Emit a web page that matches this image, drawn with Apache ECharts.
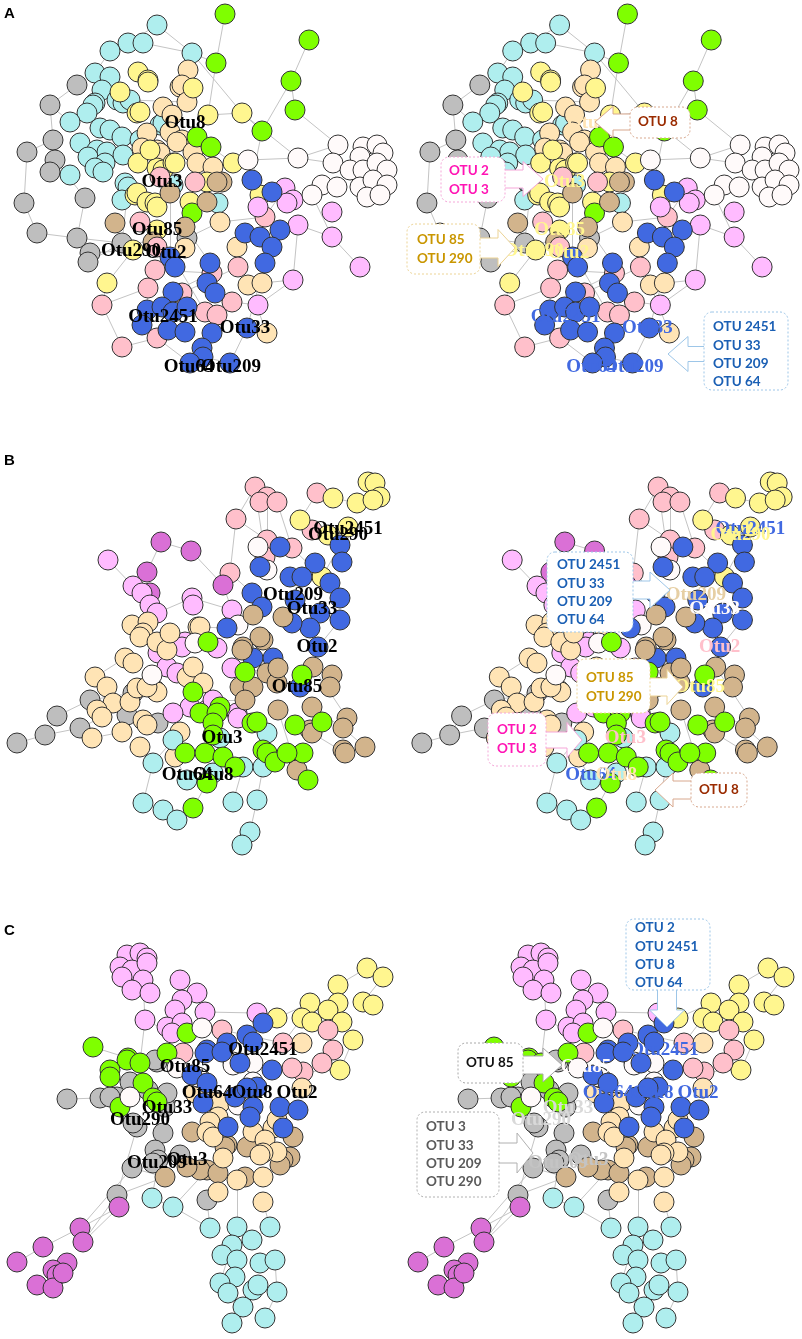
<!DOCTYPE html>
<html>
<head>
<meta charset="utf-8">
<script src="https://cdn.jsdelivr.net/npm/echarts@6.0.0/dist/echarts.min.js"></script>
<style>
html, body { margin: 0; padding: 0; background: #fff; }
#chart { width: 802px; height: 1339px; }
</style>
</head>
<body>
<div id="chart"></div>
<script>
// node positions are in panel units (1 unit = 1 px of a 400 px wide panel)

// ---- network A ----
var aGray = [[77,85],[50,105],[53,140],[27,152],[55,160],[50,172],[24,203],[85,198],[37,233],[77,238],[90,253],[88,262],[122,243],[187,238]];
var aCyan = [[157,25],[128,43],[143,43],[110,51],[192,53],[95,73],[110,77],[102,90],[120,95],[117,100],[95,103],[93,105],[87,113],[123,103],[130,100],[70,122],[100,128],[110,130],[160,125],[163,123],[122,137],[80,143],[97,150],[107,152],[88,157],[123,155],[105,163],[95,168],[103,172],[70,175],[125,183],[128,187],[122,200],[173,185],[218,203],[140,140]];
var aMocc = [[188,70],[180,87],[182,85],[187,102],[163,107],[172,115],[147,133],[170,132],[182,140],[177,142],[142,148],[157,150],[160,153],[193,152],[197,163],[213,167],[220,222],[185,248],[237,247],[248,285],[262,283],[267,333]];
var aYell = [[138,72],[148,80],[148,82],[120,92],[137,113],[140,112],[193,88],[208,115],[242,113],[138,163],[157,168],[163,170],[173,163],[175,163],[233,163],[135,195],[137,193],[147,202],[155,203],[157,207],[190,202],[207,182],[260,195],[157,230],[133,250],[107,283],[150,150]];
var aGreen = [[225,14],[216,63],[309,40],[291,81],[295,110],[262,131],[197,137],[211,147],[192,213]];
var aTan = [[222,182],[217,182],[170,193],[207,202],[115,223],[185,227],[153,242]];
var aPink = [[160,177],[195,182],[140,222],[157,247],[155,270],[148,288],[182,293],[212,273],[238,267],[232,302],[205,312],[217,315],[265,217],[102,305],[122,347],[157,338]];
var aPlum = [[285,188],[293,200],[258,207],[287,203],[298,225],[332,212],[332,237],[360,267],[293,280],[258,305]];
var aWhite = [[248,160],[298,158],[338,145],[363,147],[377,145],[360,157],[383,153],[333,163],[350,170],[363,170],[377,163],[387,170],[322,185],[312,195],[337,187],[360,187],[373,180],[387,185],[367,197],[380,195]];
var aBlue = [[252,180],[272,192],[245,233],[260,237],[280,230],[272,247],[265,263],[170,257],[175,267],[210,263],[207,283],[215,293],[173,292],[147,310],[162,307],[173,312],[187,307],[142,325],[168,330],[185,332],[212,333],[247,328],[202,348],[203,357],[190,363],[230,363]];
var aEdges = [[225,14,216,63],[216,63,208,115],[309,40,291,81],[291,81,262,131],[291,81,295,110],[295,110,338,145],[262,131,252,180],[157,25,192,53],[192,53,242,113],[157,25,128,43],[110,51,95,73],[128,43,110,51],[143,43,192,53],[192,53,216,63],
  [77,85,50,105],[50,105,53,140],[27,152,53,140],[27,152,24,203],[24,203,37,233],[37,233,77,238],[77,238,85,198],[85,198,55,160],[77,238,122,243],[88,262,122,243],[77,85,95,73],[50,105,70,122],[90,253,133,250],[128,187,122,243],[122,243,153,242],
  [107,283,133,250],[107,283,102,305],[102,305,122,347],[122,347,157,338],[102,305,148,288],[147,310,148,288],[157,338,190,363],[203,357,230,363],[230,363,247,328],[247,328,265,263],[267,333,248,285],[262,283,293,280],
  [360,267,332,237],[332,237,298,225],[298,225,293,280],[293,280,258,305],[258,305,232,302],[298,158,338,145],[248,160,298,158],[298,158,333,163],
  [242,113,262,131],[242,113,298,158],[208,115,242,113],[197,137,233,163],[187,238,220,222],[220,222,265,217],[265,217,285,188],[155,270,212,273],[173,292,212,273],[182,293,238,267],[187,307,217,315],
  [122,137,163,123],[130,100,187,102],[170,193,170,257],[185,227,210,263],[157,230,205,312],[312,195,332,237]];
var aLabels = [['Otu8',185,123],['Otu3',162,182],['Otu85',157,230],['Otu290',131,251],['Otu2',166,253],['Otu2451',163,317],['Otu33',245,328],['Otu64',189,367],['Otu209',231,367]];

// ---- network B ----
var bGray = [[17,323],[45,315],[57,296],[80,308],[90,280],[127,295],[158,303],[133,273]];
var bPink = [[255,67],[267,77],[260,82],[277,82],[236,99],[317,73],[312,110],[267,120],[265,137],[292,128],[230,153]];
var bYell = [[333,78],[357,83],[368,62],[375,63],[380,77],[373,80],[300,100],[328,115],[348,107],[322,157]];
var bOrchid = [[161,122],[191,131],[147,152],[150,173],[223,165]];
var bPlum = [[108,140],[133,166],[142,173],[150,185],[192,178],[193,185],[157,193],[232,190],[217,228],[185,222],[182,227],[158,233],[167,247],[177,253],[232,248],[190,287],[207,290],[237,293],[173,293],[213,280],[238,298]];
var bMocc = [[132,205],[148,202],[143,213],[140,217],[157,222],[167,230],[170,213],[198,207],[200,207],[125,238],[133,243],[95,257],[107,267],[113,283],[97,290],[102,297],[130,282],[137,268],[155,270],[157,272],[147,267],[187,257],[193,247],[203,263],[122,312],[92,318],[140,327],[143,300],[147,305],[180,312],[175,337]];
var bWhite = [[258,127],[267,150],[238,205],[195,223],[152,255]];
var bBlue = [[280,127],[340,125],[342,142],[315,143],[290,157],[302,157],[260,147],[252,173],[262,187],[330,163],[340,178],[340,200],[320,193],[310,208],[292,203],[227,208],[318,227],[253,238],[273,238],[295,180],[300,267]];
var bTan = [[263,220],[260,217],[243,227],[242,230],[253,195],[283,197],[240,267],[253,267],[267,253],[277,263],[278,248],[313,247],[332,255],[330,267],[278,290],[312,287],[310,310],[347,298],[343,308],[343,330],[312,313],[365,327],[345,333],[297,350],[245,280]];
var bCyan = [[173,320],[220,318],[267,313],[153,343],[187,360],[213,353],[243,347],[263,347],[143,383],[163,390],[177,400],[233,382],[257,380],[250,412],[242,425]];
var bGreen = [[245,252],[302,255],[208,222],[193,272],[200,293],[220,287],[217,293],[213,303],[252,303],[257,302],[295,305],[322,302],[185,333],[205,333],[223,337],[263,330],[267,333],[275,342],[235,347],[303,333],[287,333],[207,363],[193,388],[308,360],[213,315]];
var bEdges = [[17,323,45,315],[45,315,80,308],[57,296,90,280],[80,308,102,297],[45,315,57,296],[90,280,133,273],[127,295,158,303],
  [108,140,133,166],[161,122,191,131],[161,122,147,152],[191,131,223,165],[255,67,236,99],[236,99,230,153],[317,73,300,100],[317,73,333,78],[333,78,357,83],[277,82,292,128],[267,77,267,120],[255,67,265,137],[230,153,223,165],[223,165,232,190],
  [143,383,153,343],[163,390,177,400],[177,400,193,388],[233,382,243,347],[257,380,250,412],[250,412,242,425],[257,380,263,347],[308,360,297,350],[365,327,343,308],[345,333,312,313],[297,350,278,290],[347,298,313,247],
  [157,193,192,178],[192,178,232,190],[133,166,157,193],[95,257,125,238],[92,318,122,312],[175,337,187,360],[153,343,173,320],[193,388,207,363],[230,153,252,173],[300,100,328,115],[322,157,340,125],[340,200,318,227],
  [312,287,343,308],[238,298,267,313],[198,207,227,208],[213,280,245,280],[245,252,278,248],[152,255,187,257],[130,282,157,272],[236,99,267,120],[292,128,322,157]];
var bLabels = [['Otu2451',348,109],['Otu290',338,115],['Otu209',293,175],['Otu33',312,189],['Otu2',317,227],['Otu85',297,267],['Otu3',222,318],['Otu64',187,355],['Otu8',213,355]];

// ---- network C ----
var cPlum = [[127,125],[140,123],[147,128],[120,137],[132,140],[147,133],[122,147],[143,150],[132,160],[150,163],[180,150],[197,163],[182,170],[175,180],[205,182],[145,190],[167,197],[182,193],[172,203],[257,183]];
var cYell = [[367,138],[383,147],[338,155],[338,173],[310,173],[328,180],[363,172],[373,175],[302,188],[312,192],[277,188],[342,192],[353,210],[340,240]];
var cPink = [[328,200],[333,220],[322,233],[303,242],[292,238],[283,213],[222,200],[183,223]];
var cGray = [[67,269],[100,268],[157,232],[155,230],[130,252],[117,267],[110,267],[148,260],[165,277],[137,297],[133,293],[163,303],[155,320],[158,330],[153,333],[132,338],[180,325],[117,365],[207,370],[167,263]];
var cGreen = [[93,217],[128,228],[127,230],[110,240],[167,223],[187,203],[110,247],[143,253],[140,233],[120,277],[153,268],[157,272]];
var cTan = [[215,272],[192,302],[227,315],[225,317],[247,317],[293,307],[290,327],[283,330],[280,335],[207,340],[200,340],[165,347],[218,343],[245,347],[187,337]];
var cMocc = [[302,213],[302,258],[195,263],[220,273],[218,287],[210,292],[207,302],[213,307],[253,302],[273,298],[277,290],[265,310],[277,322],[263,323],[260,325],[223,328],[237,350],[263,347],[218,362],[263,372]];
var cWhite = [[202,198],[233,232],[233,235],[253,233],[200,248],[198,247],[177,238],[130,267],[253,252],[238,275]];
var cBlue = [[263,193],[247,205],[227,213],[207,220],[205,223],[222,222],[253,212],[272,240],[192,245],[240,233],[257,257],[203,273],[235,267],[253,277],[280,277],[298,280],[250,287],[228,297],[283,298],[247,258],[207,253]];
var cOrchid = [[119,377],[80,398],[83,412],[43,417],[17,432],[67,433],[53,440],[57,445],[37,455],[53,458],[63,443]];
var cCyan = [[152,368],[173,377],[210,398],[237,397],[270,397],[252,410],[232,415],[222,425],[237,430],[260,433],[275,430],[235,447],[220,453],[228,463],[253,460],[258,455],[277,462],[243,477],[232,493],[265,488]];
var cEdges = [[119,377,117,365],[117,365,137,297],[80,398,119,377],[83,412,119,377],[43,417,80,398],[17,432,43,417],[83,412,117,365],[80,398,132,338],[67,269,100,268],[100,268,130,252],[93,217,128,228],
  [152,368,173,377],[173,377,210,398],[210,398,207,370],[237,350,237,397],[263,372,270,397],[252,410,270,397],[232,493,243,477],[265,488,277,462],[277,462,275,430],[243,477,253,460],[220,453,232,415],
  [367,138,338,155],[383,147,363,172],[367,138,383,147],[363,172,373,175],[338,155,338,173],[310,173,277,188],[353,210,340,240],[340,240,303,242],[205,182,257,183],[222,200,283,213],[283,213,302,188],
  [145,190,143,150],[172,203,145,190],[145,190,140,233],[180,150,197,163],[197,163,205,182],[152,368,163,303],[173,377,207,340],[207,370,218,362],[117,365,165,347],[132,338,165,347]];
var cLabels = [['Otu2451',263,220],['Otu85',185,237],['Otu64',207,263],['Otu8',252,263],['Otu2',297,263],['Otu33',167,278],['Otu290',140,290],['Otu209',157,333],['Otu3',187,330]];

// ---- styles ----
var palette = { gray: '#bebebe', cyan: '#afeeee', mocc: '#ffe4b5', yell: '#fff68f', green: '#7fff00', tan: '#d2b48c',
  pink: '#ffc0cb', plum: '#ffbbff', orchid: '#da70d6', white: '#fffafa', blue: '#4169e1' };

// label colours on the right-hand panels
var tintA = { Otu8: '#ffe4b5', Otu3: '#fff68f', Otu85: '#fff68f', Otu290: '#fff68f', Otu2: '#fff68f', Otu2451: '#4169e1', Otu33: '#4169e1', Otu64: '#4169e1', Otu209: '#4169e1' };
var tintB = { Otu2451: '#4169e1', Otu290: '#fff68f', Otu209: '#e6cfa4', Otu33: '#fffafa', Otu2: '#ffc0cb', Otu85: '#fff68f', Otu3: '#ffc0cb', Otu64: '#4169e1', Otu8: '#ffe4b5' };
var tintC = { Otu2451: '#4169e1', Otu85: '#fffafa', Otu64: '#4169e1', Otu8: '#4169e1', Otu2: '#4169e1', Otu33: '#d9d9d9', Otu290: '#d9d9d9', Otu209: '#c4c4c4', Otu3: '#c4c4c4' };

var rows = [
  { top: 0, h: 400, shift: 403, edges: aEdges, labels: aLabels, tint: tintA,
    groups: [['gray', aGray], ['cyan', aCyan], ['mocc', aMocc], ['yell', aYell], ['green', aGreen], ['tan', aTan], ['pink', aPink], ['plum', aPlum], ['white', aWhite], ['blue', aBlue]] },
  { top: 420, h: 420, shift: 405, edges: bEdges, labels: bLabels, tint: tintB,
    groups: [['gray', bGray], ['pink', bPink], ['yell', bYell], ['orchid', bOrchid], ['plum', bPlum], ['mocc', bMocc], ['white', bWhite], ['blue', bBlue], ['tan', bTan], ['cyan', bCyan], ['green', bGreen]] },
  { top: 830, h: 509, shift: 401, edges: cEdges, labels: cLabels, tint: tintC,
    groups: [['plum', cPlum], ['yell', cYell], ['pink', cPink], ['gray', cGray], ['green', cGreen], ['tan', cTan], ['mocc', cMocc], ['white', cWhite], ['blue', cBlue], ['orchid', cOrchid], ['cyan', cCyan]] }
];

var grid = [], xAxis = [], yAxis = [], series = [];
rows.forEach(function (row) {
  [0, 1].forEach(function (side) {
    var idx = grid.length;
    grid.push({ left: side ? row.shift : 0, top: row.top, width: 400, height: row.h });
    xAxis.push({ type: 'value', gridIndex: idx, min: 0, max: 400, show: false });
    yAxis.push({ type: 'value', gridIndex: idx, min: 0, max: row.h, inverse: true, show: false });

    series.push({
      type: 'lines', coordinateSystem: 'cartesian2d', xAxisIndex: idx, yAxisIndex: idx,
      silent: true, clip: false, z: 1,
      lineStyle: { color: '#c4c4c4', width: 1, opacity: 1 },
      data: row.edges.map(function (e) { return { coords: [[e[0], e[1]], [e[2], e[3]]] }; })
    });

    var pts = [];
    row.groups.forEach(function (g) {
      g[1].forEach(function (p) {
        pts.push({ value: p, itemStyle: { color: palette[g[0]] } });
      });
    });
    series.push({
      type: 'scatter', xAxisIndex: idx, yAxisIndex: idx, clip: false, z: 2,
      symbolSize: 20, itemStyle: { borderColor: '#333', borderWidth: 1, opacity: 1 },
      data: pts
    });

    series.push({
      type: 'scatter', xAxisIndex: idx, yAxisIndex: idx, clip: false, z: 3, silent: true,
      symbolSize: 0, itemStyle: { opacity: 1 },
      label: { show: true, position: 'inside', formatter: '{b}', fontFamily: 'Liberation Serif', fontWeight: 'bold', fontSize: 19,
        textBorderWidth: 0, textShadowBlur: 0, opacity: 1 },
      data: row.labels.map(function (l) {
        return { name: l[0], value: [l[1], l[2]], label: { color: side ? row.tint[l[0]] : '#000' } };
      })
    });
  });
});

// callout boxes with block arrows (page px)
var callouts = [
  { lines: ['OTU 8'], color: '#9a2b00', border: '#d8a88e', box: [630, 107, 60, 31], tx: 638, ty: 122, arrow: ['left', 595, 122, 40, 18, 31, 16] },
  { lines: ['OTU 2', 'OTU 3'], color: '#ff14b4', border: '#f5a6d8', box: [441, 157, 64, 45], tx: 449, ty: 171, arrow: ['right', 543, 179, 45, 20, 35, 18] },
  { lines: ['OTU 85', 'OTU 290'], color: '#c99600', border: '#ecd394', box: [407, 224, 73, 50], tx: 417, ty: 240, arrow: ['right', 515, 248, 40, 17, 37, 20] },
  { lines: ['OTU 2451', 'OTU 33', 'OTU 209', 'OTU 64'], color: '#1a5fb4', border: '#9dc6e8', box: [704, 312, 84, 78], tx: 713, ty: 327, arrow: ['left', 668, 354, 40, 20, 35, 15] },

  { lines: ['OTU 2451', 'OTU 33', 'OTU 209', 'OTU 64'], color: '#1a5fb4', border: '#9dc6e8', box: [547, 552, 86, 80], tx: 557, ty: 565, arrow: ['right', 670, 590, 42, 20, 36, 18] },
  { lines: ['OTU 85', 'OTU 290'], color: '#c99600', border: '#ecd394', box: [577, 659, 73, 54], tx: 586, ty: 678, arrow: ['right', 683, 687, 36, 16, 35, 18] },
  { lines: ['OTU 2', 'OTU 3'], color: '#ff14b4', border: '#f5a6d8', box: [488, 713, 58, 53], tx: 497, ty: 730, arrow: ['right', 582, 740, 40, 15, 35, 16] },
  { lines: ['OTU 8'], color: '#9a2b00', border: '#d8a88e', box: [691, 773, 56, 34], tx: 699, ty: 790, arrow: ['left', 655, 790, 40, 18, 34, 18] },

  { lines: ['OTU 2', 'OTU 2451', 'OTU 8', 'OTU 64'], color: '#1a5fb4', border: '#9dc6e8', box: [626, 919, 84, 71], tx: 635, ty: 928, arrow: ['down', 667, 1027, 40, 17, 35, 19] },
  { lines: ['OTU 85'], color: '#111111', border: '#a8a8a8', box: [458, 1043, 65, 40], tx: 466, ty: 1063, arrow: ['right', 562, 1065, 42, 19, 34, 18] },
  { lines: ['OTU 3', 'OTU 33', 'OTU 209', 'OTU 290'], color: '#5a5a5a', border: '#b0b0b0', box: [417, 1112, 82, 85], tx: 426, ty: 1127, arrow: ['right', 533, 1153, 38, 16, 40, 20] }
];

function arrowPoints(a) {
  var dir = a[0], x = a[1], y = a[2], len = a[3], hl = a[4], hw = a[5] / 2, bw = a[6] / 2;
  var pts = [[0, 0], [hl, -hw], [hl, -bw], [len, -bw], [len, bw], [hl, bw], [hl, hw]];
  return pts.map(function (p) {
    if (dir === 'left') return [x + p[0], y + p[1]];
    if (dir === 'right') return [x - p[0], y + p[1]];
    return [x + p[1], y - p[0]];
  });
}

var graphic = [
  { type: 'text', left: 4, top: 6, z: 10, style: { text: 'A', font: 'bold 15px "Liberation Sans", Arial', fill: '#000' } },
  { type: 'text', left: 4, top: 453, z: 10, style: { text: 'B', font: 'bold 15px "Liberation Sans", Arial', fill: '#000' } },
  { type: 'text', left: 4, top: 923, z: 10, style: { text: 'C', font: 'bold 15px "Liberation Sans", Arial', fill: '#000' } }
];
callouts.forEach(function (c) {
  graphic.push({ type: 'polygon', z: 10, shape: { points: arrowPoints(c.arrow) },
    style: { fill: '#fff', stroke: c.border, lineWidth: 1 } });
  graphic.push({ type: 'rect', z: 11, shape: { x: c.box[0], y: c.box[1], width: c.box[2], height: c.box[3], r: 8 },
    style: { fill: '#fff', stroke: c.border, lineWidth: 1, lineDash: [2, 2] } });
  c.lines.forEach(function (t, i) {
    graphic.push({ type: 'text', z: 12, x: c.tx, y: c.ty + i * 18.3,
      style: { text: t, fill: c.color, font: 'bold 13.5px Lato, "Open Sans", sans-serif', verticalAlign: 'middle', align: 'left' } });
  });
});

var chart = echarts.init(document.getElementById('chart'), null, { renderer: 'canvas' });
chart.setOption({
  animation: false,
  backgroundColor: '#fff',
  grid: grid,
  xAxis: xAxis,
  yAxis: yAxis,
  series: series,
  graphic: graphic
});
</script>
</body>
</html>
